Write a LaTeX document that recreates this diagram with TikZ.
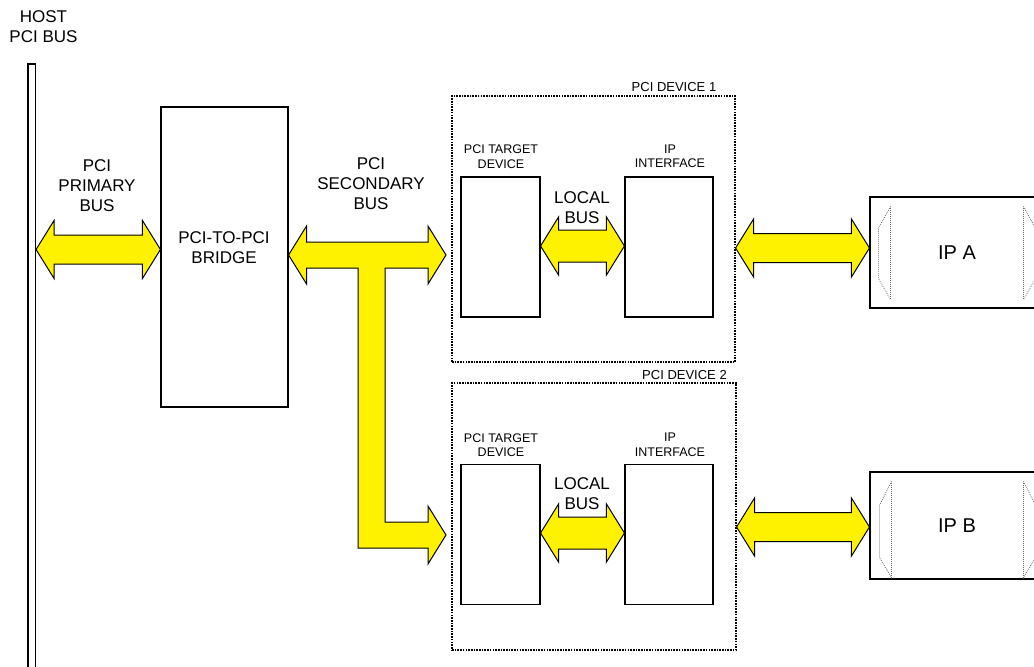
\documentclass[tikz,border=0pt]{standalone}
\usepackage{fontspec}
\setmainfont{Liberation Sans}
\usetikzlibrary{calc}

% fat bus arrow between two points, optional shaft half width
\newcommand{\busarrow}[3][14.5]{%
  \filldraw[bus] let \p1=(#2), \p2=(#3) in
    (\p1) -- (\x1+18pt,\y1+29pt) -- (\x1+18pt,\y1+#1pt) -- (\x2-18pt,\y2+#1pt)
    -- (\x2-18pt,\y2+29pt) -- (\p2) -- (\x2-18pt,\y2-29pt) -- (\x2-18pt,\y2-#1pt)
    -- (\x1+18pt,\y1-#1pt) -- (\x1+18pt,\y1-29pt) -- cycle;}

\begin{document}
\begin{tikzpicture}[x=1pt, y=-1pt,
 box/.style={draw, line width=1.1pt, inner sep=0pt},
 device/.style={draw, line width=1.1pt, dash pattern=on 1.6pt off 1.1pt, inner sep=0pt},
 bus/.style={draw, line width=1pt, fill=yellow, line join=miter},
 slot/.style={draw=black!60, line width=0.8pt, dash pattern=on 0.8pt off 1.2pt},
 lbl/.style={align=center, inner sep=0pt, font=\fontsize{17}{20}\selectfont},
 small/.style={align=center, inner sep=0pt, font=\fontsize{12.5}{14.5}\selectfont},
 title/.style={inner sep=0pt, font=\fontsize{13}{15}\selectfont}]
\useasboundingbox (0,0) rectangle (1034,667);

% host side
\node[box, minimum width=7.5pt, minimum height=626pt] (hostbus) at (31.75,377) {};
\node[lbl] (hostlbl) at (43.5,27) {HOST\\PCI BUS};
\node[box, minimum width=127pt, minimum height=300pt] (bridge) at (224.5,257) {};
\node[lbl] (bridgelbl) at (224,248) {PCI-TO-PCI\\BRIDGE};
\node[lbl] (primlbl) at (97,185.5) {PCI\\PRIMARY\\BUS};
\node[lbl] (seclbl) at (371,184) {PCI\\SECONDARY\\BUS};

% pci devices
\node[device, minimum width=283pt, minimum height=266pt] (dev1) at (593.5,229) {};
\node[title] (dev1lbl) at (674,87) {PCI DEVICE 1};
\node[box, minimum width=79pt, minimum height=140pt] (target1) at (500.5,247) {};
\node[box, minimum width=88pt, minimum height=140pt] (ipif1) at (669,247) {};
\node[small] (target1lbl) at (501,156.5) {PCI TARGET\\DEVICE};
\node[small] (ipif1lbl) at (670,156.5) {IP\\INTERFACE};
\node[lbl] (local1lbl) at (582,208) {LOCAL\\BUS};

\node[device, minimum width=284pt, minimum height=267pt] (dev2) at (594,516.5) {};
\node[title] (dev2lbl) at (684.5,375) {PCI DEVICE 2};
\node[box, minimum width=79pt, minimum height=140pt] (target2) at (500.5,534.5) {};
\node[box, minimum width=88pt, minimum height=140pt] (ipif2) at (669,534.5) {};
\node[small] (target2lbl) at (501,445) {PCI TARGET\\DEVICE};
\node[small] (ipif2lbl) at (670,445) {IP\\INTERFACE};
\node[lbl] (local2lbl) at (582,494) {LOCAL\\BUS};

% ip modules
\node[box, minimum width=174pt, minimum height=111pt, font=\fontsize{20}{24}\selectfont] (ipa) at (957,252.5) {IP A};
\node[box, minimum width=174pt, minimum height=107pt, font=\fontsize{20}{24}\selectfont] (ipb) at (957,525.5) {IP B};
\draw[slot] ([shift={(21pt,-10pt)}]ipa.north west) -- ([shift={(9pt,-32pt)}]ipa.north west)
  -- ([shift={(9pt,30pt)}]ipa.south west) -- ([shift={(21pt,9pt)}]ipa.south west) -- cycle;
\draw[slot] ([shift={(-21pt,-10pt)}]ipa.north east) -- ([shift={(-9pt,-32pt)}]ipa.north east)
  -- ([shift={(-9pt,30pt)}]ipa.south east) -- ([shift={(-21pt,9pt)}]ipa.south east) -- cycle;
\draw[slot] ([shift={(22pt,-10pt)}]ipb.north west) -- ([shift={(10pt,-34pt)}]ipb.north west)
  -- ([shift={(10pt,22pt)}]ipb.south west) -- ([shift={(22pt,2pt)}]ipb.south west) -- cycle;
\draw[slot] ([shift={(-21pt,-10pt)}]ipb.north east) -- ([shift={(-9pt,-34pt)}]ipb.north east)
  -- ([shift={(-9pt,22pt)}]ipb.south east) -- ([shift={(-21pt,2pt)}]ipb.south east) -- cycle;

% bus levels
\coordinate (yprim) at (0,249.5);
\coordinate (secR) at (446,255);
\coordinate (secB) at (446,535);
\coordinate (stem) at (371.5,400);
\coordinate (yloc1) at (0,246);
\coordinate (yloc2) at (0,533);
\coordinate (yipa) at (0,248);
\coordinate (yipb) at (0,527);

\busarrow{hostbus.east |- yprim}{bridge.west |- yprim}
\filldraw[bus] let \p1=(bridge.east |- secR), \p2=(secR), \p3=(secB), \p4=(stem) in
  (\p1) -- ++(18pt,29pt) -- ++(0,-16pt) -- (\x2-18pt,\y2+13pt) -- ++(0,16pt) -- (\p2)
  -- ++(-18pt,-29pt) -- ++(0,16pt) -- (\x4+13.5pt,\y2-13pt) -- (\x4+13.5pt,\y3+13pt)
  -- (\x3-18pt,\y3+13pt) -- ++(0,16pt) -- (\p3) -- ++(-18pt,-29pt) -- ++(0,16pt)
  -- (\x4-13.5pt,\y3-13pt) -- (\x4-13.5pt,\y2-13pt) -- (\x1+18pt,\y2-13pt) -- ++(0,-16pt) -- cycle;
\busarrow[16]{target1.east |- yloc1}{ipif1.west |- yloc1}
\busarrow[16]{target2.east |- yloc2}{ipif2.west |- yloc2}
\busarrow{dev1.east |- yipa}{ipa.west |- yipa}
\busarrow{dev2.east |- yipb}{ipb.west |- yipb}
\end{tikzpicture}
\end{document}
